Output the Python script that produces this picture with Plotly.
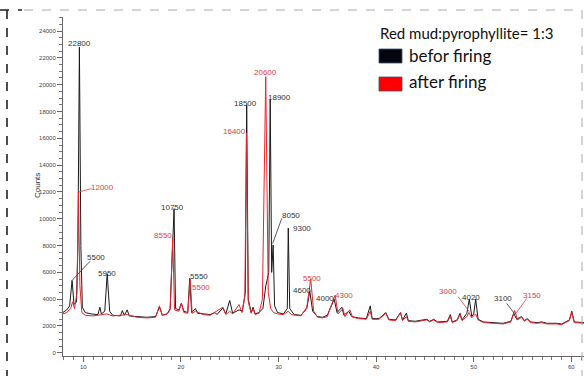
import plotly.graph_objects as go

# ---------------- data ----------------
before_x = [7.9, 8.3, 8.6, 8.85, 9.05, 9.3, 9.45, 9.6, 9.75, 9.9, 10.2, 10.8, 11.5, 11.7, 11.85,
            12.2, 12.45, 12.7, 13.0, 13.8, 14.0, 14.2, 14.5, 14.7, 15.5, 16.5, 17.4, 17.8, 18.1,
            18.6, 18.9, 19.3, 19.45, 19.8, 20.05, 20.3, 20.7, 20.9, 21.1, 21.5, 21.7, 22.3, 23.0,
            23.5, 23.7, 24.3, 24.6, 25.0, 25.3, 25.95, 26.3, 26.6, 26.74, 26.9, 27.2, 27.4, 27.6,
            28.0, 28.4, 28.7, 29.0, 29.15, 29.3, 29.45, 29.6, 29.9, 30.5, 30.9, 31.0, 31.15, 31.6,
            32.3, 32.9, 33.2, 33.5, 34.0, 34.5, 35.0, 35.7, 36.0, 36.5, 36.7, 37.2, 37.5, 38.2,
            39.0, 39.4, 39.6, 40.3, 41.0, 41.3, 42.0, 42.5, 42.7, 43.1, 43.3, 44.0, 45.2, 45.5,
            45.9, 46.3, 47.3, 47.6, 47.8, 48.3, 48.6, 48.8, 49.3, 49.55, 49.8, 50.0, 50.2, 50.45,
            51.0, 52.0, 53.0, 53.8, 54.1, 54.4, 54.9, 55.2, 55.5, 55.8, 56.5, 57.0, 57.5, 58.5,
            59.0, 59.8, 60.05, 60.3, 60.8, 61.3]
before_y = [3000, 3200, 3500, 5400, 3600, 3800, 8000, 22800, 8000, 3400, 3000, 2900, 2850, 3400, 2900,
            3100, 5900, 3100, 2800, 2750, 3150, 2800, 3200, 2750, 2700, 2650, 2700, 3400, 2800,
            2900, 3300, 10750, 3300, 3200, 3700, 3100, 3000, 5550, 3000, 3300, 2950, 2900, 2850,
            3000, 2850, 3350, 2900, 3900, 2950, 3200, 3100, 4500, 18500, 4000, 3000, 3400, 2900,
            3000, 3300, 5000, 6000, 18900, 6000, 8050, 3500, 3000, 2900, 3300, 9300, 3300, 2850,
            2800, 3300, 4600, 3100, 2700, 2650, 2800, 4000, 3000, 3400, 2800, 3100, 2700, 2600,
            2550, 3500, 2550, 2550, 3000, 2500, 2450, 3000, 2450, 2950, 2400, 2350, 2500, 2350,
            2500, 2300, 2350, 2850, 2300, 2450, 2950, 2450, 2950, 4020, 2700, 2900, 4000, 2500,
            2300, 2250, 2200, 2350, 2950, 2500, 2700, 2400, 2550, 2300, 2250, 2300, 2200, 2200,
            2150, 2450, 3100, 2300, 2250, 2250]

after_x = [7.9, 8.3, 8.7, 8.9, 9.1, 9.35, 9.5, 9.65, 9.85, 10.2, 11.0, 11.7, 12.4, 13.0, 14.0,
           14.5, 15.5, 16.5, 17.4, 17.8, 18.1, 18.6, 18.9, 19.16, 19.35, 19.8, 20.05, 20.3, 20.7,
           20.95, 21.15, 21.5, 22.3, 23.0, 24.3, 24.6, 25.0, 25.3, 25.95, 26.25, 26.55, 26.72,
           26.9, 27.2, 27.4, 27.6, 28.0, 28.35, 28.69, 28.95, 29.2, 29.5, 29.9, 30.5, 31.0, 31.3,
           32.3, 32.9, 33.3, 33.6, 34.0, 34.5, 35.0, 35.8, 36.1, 36.6, 36.8, 37.3, 37.6, 38.2,
           39.0, 39.4, 39.6, 40.3, 41.0, 41.3, 42.0, 42.5, 42.7, 43.1, 43.3, 44.0, 45.2, 45.5,
           45.9, 46.3, 47.3, 47.6, 47.8, 48.3, 48.6, 48.8, 49.3, 49.5, 49.8, 50.2, 50.45, 51.0,
           52.0, 53.0, 53.8, 54.2, 54.5, 54.9, 55.2, 55.5, 55.8, 56.5, 57.0, 57.5, 58.5, 59.0,
           59.8, 60.05, 60.3, 60.8, 61.3]
after_y = [2900, 3000, 3300, 3800, 3300, 4500, 12000, 5000, 3000, 2800, 2750, 2800, 2900, 2750, 2800,
           2850, 2650, 2600, 2650, 3500, 2800, 2900, 3200, 8550, 3200, 3100, 3700, 3000, 2950,
           5500, 2950, 3100, 2850, 2800, 3400, 2850, 3100, 2900, 3600, 3000, 4200, 16400,
           3800, 2950, 3300, 2850, 2950, 4000, 20600, 4500, 3300, 3000, 2900, 2850, 3100, 2850,
           2750, 3400, 5500, 3100, 2650, 2600, 2700, 4300, 2900, 3300, 2700, 3200, 2650, 2550,
           2500, 3100, 2500, 2500, 2950, 2450, 2400, 3000, 2400, 2700, 2350, 2300, 2450, 2300,
           2450, 2250, 2300, 2750, 2250, 2400, 2850, 2400, 2700, 3000, 2600, 2900, 2450, 2250,
           2200, 2150, 2300, 3150, 2450, 2650, 2350, 2500, 2250, 2200, 2250, 2150, 2150, 2100,
           2400, 3000, 2250, 2200, 2200]

x_ticks = [10, 20, 30, 40, 50, 60]
y_ticks = [0, 2000, 4000, 6000, 8000, 10000, 12000, 14000, 16000, 18000, 20000, 22000, 24000]

legend_title = "Red mud:pyrophyllite= 1:3"
series_names = ["befor firing", "after firing"]

# ---------------- styling ----------------
BLACK = "#1a1a1a"
RED = "#e8242c"
LBL_BLACK = "#333333"
LBL_RED = "#e0404a"
W, H = 584, 376
ML, MR, MT, MB = 63, 0, 17, 20


def px(xp):
    return (xp - ML) / (W - ML - MR)


def py(yp):
    return (H - MB - yp) / (H - MB - MT)


fig = go.Figure()
fig.add_trace(go.Scatter(x=before_x, y=before_y, mode="lines",
                         line=dict(color=BLACK, width=1), name=series_names[0],
                         showlegend=False))
fig.add_trace(go.Scatter(x=after_x, y=after_y, mode="lines",
                         line=dict(color=RED, width=1), name=series_names[1],
                         showlegend=False))

# peak labels
labels = [
    ("22800", 9.6, 23050, LBL_BLACK),
    ("12000", 11.97, 12340, LBL_RED),
    ("5500", 11.3, 7100, LBL_BLACK),
    ("5950", 12.46, 5920, LBL_BLACK),
    ("10750", 19.12, 10850, LBL_BLACK),
    ("8550", 18.2, 8760, LBL_RED),
    ("5550", 21.86, 5700, LBL_BLACK),
    ("5500", 22.06, 4900, LBL_RED),
    ("18500", 26.57, 18590, LBL_BLACK),
    ("16400", 25.44, 16520, LBL_RED),
    ("20600", 28.69, 20920, LBL_RED),
    ("18900", 30.15, 19080, LBL_BLACK),
    ("8050", 31.3, 10210, LBL_BLACK),
    ("9300", 32.38, 9270, LBL_BLACK),
    ("5500", 33.46, 5520, LBL_RED),
    ("4600", 32.37, 4680, LBL_BLACK),
    ("4000", 34.77, 4055, LBL_BLACK),
    ("4300", 36.66, 4300, LBL_RED),
    ("3000", 47.4, 4600, LBL_RED),
    ("4020", 49.69, 4130, LBL_BLACK),
    ("3100", 52.97, 4055, LBL_BLACK),
    ("3150", 55.94, 4300, LBL_RED),
]
annotations = []
for t, xv, yv, c in labels:
    annotations.append(dict(x=xv, y=yv, xref="x", yref="y", text=t, showarrow=False,
                            font=dict(family="Liberation Sans, Arial", size=8, color=c),
                            xanchor="center", yanchor="middle"))

# leader lines
leaders = [
    (8.85, 5400, 10.69, 6830, LBL_BLACK),
    (9.55, 12000, 10.85, 12250, LBL_RED),
    (29.4, 8150, 30.33, 10020, LBL_BLACK),
    (49.55, 3060, 48.42, 4170, LBL_RED),
    (54.16, 2940, 53.38, 3680, LBL_BLACK),
    (54.33, 2940, 55.43, 4055, LBL_RED),
]
shapes = []
for x0, y0, x1, y1, c in leaders:
    shapes.append(dict(type="line", xref="x", yref="y", x0=x0, y0=y0, x1=x1, y1=y1,
                       line=dict(color=c, width=0.8)))

# dashed frame
shapes.append(dict(type="line", xref="paper", yref="paper", x0=px(7), x1=px(7),
                   y0=py(10), y1=py(376), line=dict(color="#222", width=1.6, dash="dash")))
shapes.append(dict(type="line", xref="paper", yref="paper", x0=px(0), x1=px(22),
                   y0=py(10), y1=py(10), line=dict(color="#222", width=1.6, dash="dash")))
shapes.append(dict(type="line", xref="paper", yref="paper", x0=px(24), x1=px(582),
                   y0=py(10), y1=py(10), line=dict(color="#aaaaaa", width=1, dash="dash")))
shapes.append(dict(type="line", xref="paper", yref="paper", x0=px(582), x1=px(582),
                   y0=py(10), y1=py(376), line=dict(color="#aaaaaa", width=1, dash="dash")))

# legend boxes
shapes.append(dict(type="rect", xref="paper", yref="paper", x0=px(379), x1=px(402),
                   y0=py(63), y1=py(49), fillcolor="#05050f", line=dict(color="#405070", width=0.8)))
shapes.append(dict(type="rect", xref="paper", yref="paper", x0=px(379), x1=px(402),
                   y0=py(91), y1=py(77), fillcolor="#ff0000", line=dict(color="#405070", width=0.8)))

TITLE_FONT = dict(family="Lato, Open Sans, sans-serif", size=15, color="#111")
ITEM_FONT = dict(family="Lato, Open Sans, sans-serif", size=17, color="#111")
annotations.append(dict(x=px(378), y=py(33), xref="paper", yref="paper", text=legend_title,
                        showarrow=False, xanchor="left", yanchor="middle", font=TITLE_FONT))
annotations.append(dict(x=px(407), y=py(56), xref="paper", yref="paper", text=series_names[0],
                        showarrow=False, xanchor="left", yanchor="middle", font=ITEM_FONT))
annotations.append(dict(x=px(407), y=py(81), xref="paper", yref="paper", text=series_names[1],
                        showarrow=False, xanchor="left", yanchor="middle", font=ITEM_FONT))

# y axis title
annotations.append(dict(x=px(37), y=py(186), xref="paper", yref="paper", text="Counts",
                        showarrow=False, textangle=-90, xanchor="center", yanchor="middle",
                        font=dict(family="Liberation Sans, Arial", size=8, color="#333")))

tick_font = dict(family="Liberation Sans, Arial", size=6, color="#444")

fig.update_layout(
    width=W, height=H,
    margin=dict(l=ML, r=MR, t=MT, b=MB, pad=0),
    paper_bgcolor="white", plot_bgcolor="white",
    showlegend=False,
    annotations=annotations,
    shapes=shapes,
    xaxis=dict(range=[7.92, 61.3], tickmode="array", tickvals=x_ticks,
               ticktext=[str(v) for v in x_ticks],
               showgrid=False, zeroline=False, showline=True, linecolor="#666", linewidth=1,
               ticks="outside", ticklen=5, tickcolor="#666", tickwidth=1,
               tickfont=tick_font,
               minor=dict(dtick=1, tick0=0, ticks="outside", ticklen=3, tickcolor="#777",
                          showgrid=False)),
    yaxis=dict(range=[-240, 25050], tickmode="array", tickvals=y_ticks,
               ticktext=[str(v) for v in y_ticks],
               showgrid=False, zeroline=False, showline=True, linecolor="#666", linewidth=1,
               ticks="outside", ticklen=5, tickcolor="#666", tickwidth=1,
               tickfont=tick_font,
               minor=dict(dtick=500, tick0=0, ticks="outside", ticklen=3, tickcolor="#777",
                          showgrid=False)),
)

fig.write_html("out.html")
